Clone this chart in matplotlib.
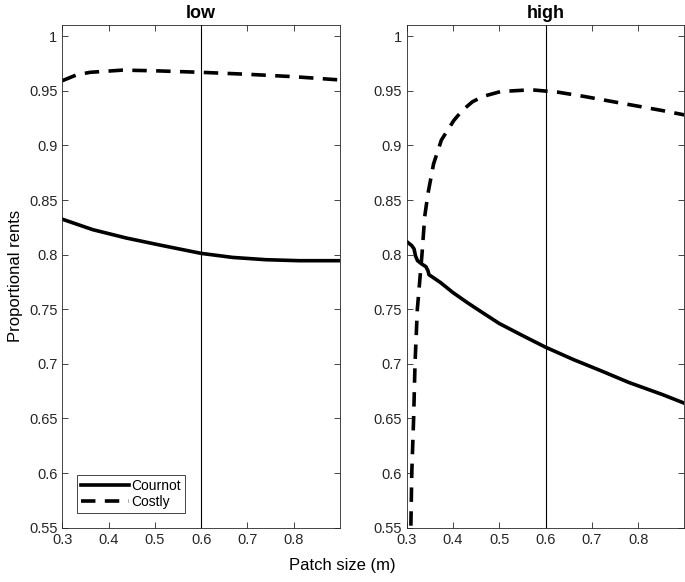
import matplotlib
matplotlib.use("Agg")
import matplotlib.pyplot as plt

plt.rcParams["font.family"] = ["Liberation Sans", "DejaVu Sans"]

# low panel
low_cournot_x = [0.3, 0.366, 0.438, 0.51, 0.6, 0.668, 0.74, 0.812, 0.9]
low_cournot_y = [0.8325, 0.8229, 0.8153, 0.8089, 0.8012, 0.7975, 0.7954, 0.7945, 0.7945]
low_costly_x = [0.3, 0.33, 0.36, 0.43, 0.5, 0.6, 0.7, 0.8, 0.9]
low_costly_y = [0.9593, 0.9645, 0.967, 0.969, 0.9684, 0.967, 0.9652, 0.963, 0.960]

# high panel
high_cournot_x = [0.3, 0.311, 0.316, 0.319, 0.3234, 0.3328, 0.3416, 0.346, 0.3482,
                  0.3547, 0.373, 0.4, 0.4314, 0.46, 0.5, 0.55, 0.6, 0.66, 0.721,
                  0.78, 0.852, 0.9]
high_cournot_y = [0.812, 0.8083, 0.8052, 0.799, 0.7945, 0.7914, 0.789, 0.7853, 0.7816,
                  0.7798, 0.7745, 0.7653, 0.756, 0.748, 0.737, 0.726, 0.7153, 0.704, 0.6935,
                  0.683, 0.672, 0.664]
high_costly_x = [0.3085, 0.309, 0.311, 0.315, 0.318, 0.323, 0.333, 0.339, 0.346, 0.358,
                 0.375, 0.402, 0.42, 0.442, 0.464, 0.503, 0.569, 0.627, 0.685, 0.747,
                 0.805, 0.852, 0.9]
high_costly_y = [0.53, 0.55, 0.6, 0.65, 0.7, 0.75, 0.8, 0.835, 0.856, 0.883,
                 0.905, 0.923, 0.932, 0.940, 0.9448, 0.9494, 0.951, 0.9488, 0.9448, 0.940,
                 0.9356, 0.932, 0.928]

titles = ["low", "high"]
panels = [
    (low_cournot_x, low_cournot_y, low_costly_x, low_costly_y),
    (high_cournot_x, high_cournot_y, high_costly_x, high_costly_y),
]
x_ticks = [0.3, 0.4, 0.5, 0.6, 0.7, 0.8]
y_ticks = [0.55, 0.6, 0.65, 0.7, 0.75, 0.8, 0.85, 0.9, 0.95, 1.0]
marker_x = 0.6

fig = plt.figure(figsize=(6.85, 5.82), dpi=100)
ax_w, ax_h = 0.4054, 0.8637
lefts = [0.0909, 0.5937]
bottom = 0.0933

for i, (title, (cx, cy, kx, ky)) in enumerate(zip(titles, panels)):
    ax = fig.add_axes([lefts[i], bottom, ax_w, ax_h])
    ax.axvline(marker_x, color="black", lw=0.8)
    ax.plot(cx, cy, color="black", lw=2.6, label="Cournot")
    ax.plot(kx, ky, color="black", lw=2.6, ls=(0, (4, 2.6)), label="Costly")
    ax.set_xlim(0.3, 0.9)
    ax.set_ylim(0.55, 1.0103)
    ax.set_xticks(x_ticks)
    ax.set_xticklabels([f"{t:g}" for t in x_ticks])
    ax.set_yticks(y_ticks)
    ax.set_yticklabels([f"{t:g}" for t in y_ticks])
    ax.tick_params(direction="in", top=True, right=True, labelsize=10.5, length=4,
                   width=0.6, colors="#262626", labelcolor="#262626")
    for sp in ax.spines.values():
        sp.set_linewidth(0.6)
        sp.set_color("#262626")
    ax.set_title(title, fontsize=13, fontweight="bold", pad=5)
    if i == 0:
        ax.set_ylabel("Proportional rents", fontsize=12, labelpad=4)
        leg = ax.legend(loc="lower left", bbox_to_anchor=(0.054, 0.029), fontsize=10,
                        fancybox=False, framealpha=1, edgecolor="#262626",
                        handlelength=3.4, borderpad=0.3, labelspacing=0.15,
                        handletextpad=0.2, borderaxespad=0)
        leg.get_frame().set_linewidth(0.6)

fig.text(0.5, 0.015, "Patch size (m)", ha="center", va="bottom", fontsize=12)
fig.savefig("out.png", dpi=100)
